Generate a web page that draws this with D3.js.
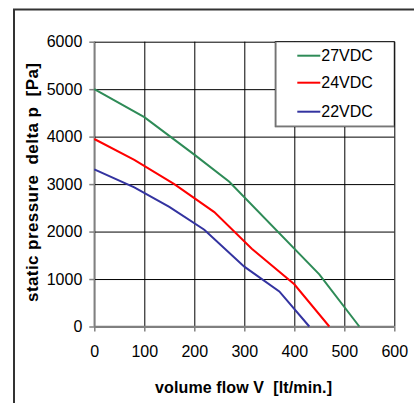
<!DOCTYPE html>
<html>
<head>
<meta charset="utf-8">
<script src="https://cdn.jsdelivr.net/npm/d3@7/dist/d3.min.js"></script>
<style>
  body { margin: 0; background: #fff; }
  svg text { font-family: "Liberation Sans", Arial, sans-serif; fill: #000; white-space: pre; }
  .axis path, .axis line { stroke: #808080; stroke-width: 1.5; }
  .axis .domain { display: none; }
  .grid line { stroke: #000; stroke-width: 1; }
  .grid .domain { display: none; }
</style>
</head>
<body>
<div class="chart"></div>
<script>
// series values: [flow lt/min, pressure Pa]
var flow27 = [0, 100, 200, 270, 450, 530];
var pres27 = [5000, 4410, 3620, 3050, 1100, 0];
var flow24 = [0, 80, 160, 240, 315, 400, 470];
var pres24 = [3950, 3510, 3000, 2410, 1640, 890, 0];
var flow22 = [0, 80, 150, 220, 300, 370, 430];
var pres22 = [3310, 2930, 2520, 2040, 1260, 740, 0];

var seriesNames = ["27VDC", "24VDC", "22VDC"];
var seriesColors = ["#2e8b57", "#ff0000", "#3333a0"];
var xTicks = [0, 100, 200, 300, 400, 500, 600];
var yTicks = [0, 1000, 2000, 3000, 4000, 5000, 6000];

var series = [
  { name: seriesNames[0], color: seriesColors[0], values: d3.zip(flow27, pres27) },
  { name: seriesNames[1], color: seriesColors[1], values: d3.zip(flow24, pres24) },
  { name: seriesNames[2], color: seriesColors[2], values: d3.zip(flow22, pres22) }
];

var width = 414, height = 403;
var margins = { top: 41.7, right: 19.7, bottom: 76.5, left: 94.3 };
var chartWidth = width - margins.left - margins.right;
var chartHeight = height - margins.top - margins.bottom;

var svg = d3.select("div.chart")
  .append("svg")
  .attr("width", width)
  .attr("height", height);

// outer frame (left and top edges visible)
svg.append("path")
  .attr("d", "M 14 403 V 9.5 H 414")
  .attr("fill", "none")
  .attr("stroke", "#333")
  .attr("stroke-width", 2);

var chart = svg.append("g")
  .attr("transform", `translate(${margins.left},${margins.top})`);

var xScale = d3.scaleLinear().domain([0, 600]).range([0, chartWidth]);
var yScale = d3.scaleLinear().domain([0, 6000]).range([chartHeight, 0]);

// grid
chart.append("g")
  .attr("class", "grid")
  .call(d3.axisLeft(yScale).tickValues(yTicks).tickSize(-chartWidth).tickFormat(""));
chart.append("g")
  .attr("class", "grid")
  .attr("transform", `translate(0,${chartHeight})`)
  .call(d3.axisBottom(xScale).tickValues(xTicks).tickSize(-chartHeight).tickFormat(""));

// axes
var yAxis = chart.append("g")
  .attr("class", "axis")
  .call(d3.axisLeft(yScale).tickValues(yTicks).tickSize(5).tickPadding(7).tickFormat(d3.format("d")));
yAxis.selectAll("text").style("font-size", "16px");

var xAxis = chart.append("g")
  .attr("class", "axis")
  .attr("transform", `translate(0,${chartHeight})`)
  .call(d3.axisBottom(xScale).tickValues(xTicks).tickSize(5).tickPadding(14).tickFormat(d3.format("d")));
xAxis.selectAll("text").style("font-size", "16px");

chart.append("line")
  .attr("x1", 0).attr("x2", 0).attr("y1", 0).attr("y2", chartHeight)
  .attr("stroke", "#808080").attr("stroke-width", 1.5);
chart.append("line")
  .attr("x1", 0).attr("x2", chartWidth).attr("y1", chartHeight).attr("y2", chartHeight)
  .attr("stroke", "#808080").attr("stroke-width", 1.5);

// lines
var line = d3.line()
  .x(d => xScale(d[0]))
  .y(d => yScale(d[1]));

chart.append("g")
  .selectAll("path")
  .data(series)
  .enter()
  .append("path")
  .attr("d", d => line(d.values))
  .attr("fill", "none")
  .attr("stroke", d => d.color)
  .attr("stroke-width", 2);

// legend
var legendW = 119, legendH = 85;
var legend = chart.append("g")
  .attr("transform", `translate(${chartWidth - legendW},0)`);
legend.append("rect")
  .attr("width", legendW)
  .attr("height", legendH)
  .attr("fill", "#fff")
  .attr("stroke", "#000");
legend.append("path")
  .attr("d", `M 0.5 0 V ${legendH - 0.5} H ${legendW}`)
  .attr("fill", "none")
  .attr("stroke", "#777")
  .attr("stroke-width", 1.5);

var rows = legend.selectAll("g.row")
  .data(series)
  .enter()
  .append("g")
  .attr("class", "row")
  .attr("transform", (d, i) => `translate(0,${[14, 41, 70][i]})`);
rows.append("line")
  .attr("x1", 22).attr("x2", 45)
  .attr("stroke", d => d.color)
  .attr("stroke-width", 2);
rows.append("text")
  .attr("x", 46)
  .attr("dy", "0.36em")
  .style("font-size", "16px")
  .text(d => d.name);

// axis titles
svg.append("text")
  .attr("x", 243.5)
  .attr("y", 393)
  .attr("text-anchor", "middle")
  .attr("textLength", 177)
  .attr("lengthAdjust", "spacing")
  .style("font-size", "16px")
  .style("font-weight", "bold")
  .text("volume flow V  [lt/min.]");

svg.append("text")
  .attr("transform", "translate(37.5,182.5) rotate(-90)")
  .attr("text-anchor", "middle")
  .attr("textLength", 239)
  .attr("lengthAdjust", "spacing")
  .style("font-size", "17px")
  .style("font-weight", "bold")
  .text("static pressure  delta p  [Pa]");
</script>
</body>
</html>
